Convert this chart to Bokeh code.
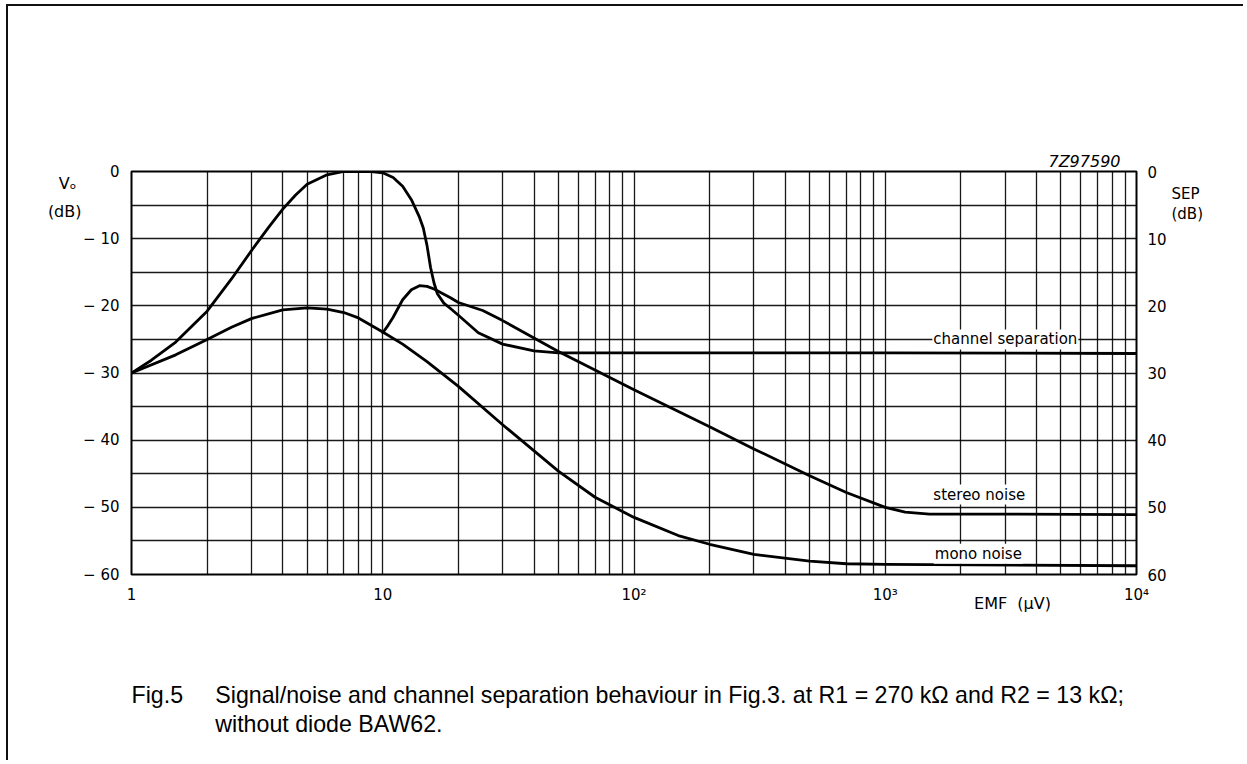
from bokeh.plotting import figure
from bokeh.models import Range1d, LinearAxis, LogAxis, FixedTicker, Label, Title
from bokeh.embed import file_html
from bokeh.resources import INLINE

# ---------------- data ----------------
x_ticks = [1, 10, 100, 1000, 10000]
x_tick_labels = ["1", "10", "10\u00b2", "10\u00b3", "10\u2074"]
vo_ticks = [0, -10, -20, -30, -40, -50, -60]
vo_tick_labels = ["0", "\u2212 10", "\u2212 20", "\u2212 30", "\u2212 40", "\u2212 50", "\u2212 60"]
sep_ticks = [0, 10, 20, 30, 40, 50, 60]
sep_tick_labels = ["0", "10", "20", "30", "40", "50", "60"]

sep_emf = [1, 1.2, 1.5, 2, 2.5, 3, 3.5, 4, 4.5, 5, 6, 7, 8, 9, 10, 11, 12, 13, 14, 14.5,
           15, 15.5, 16, 16.5, 17.5, 18.6, 20, 24, 30, 40, 50, 100, 1000, 10000]
sep_db = [-30, -28.1, -25.4, -20.8, -16.0, -11.8, -8.4, -5.6, -3.5, -1.9, -0.5, 0, 0, 0, -0.2,
          -0.9, -2.2, -4.2, -6.8, -8.4, -11.0, -14.3, -16.6, -18.2, -19.6, -20.4, -21.4,
          -24.0, -25.7, -26.7, -27.0, -27.0, -27.0, -27.1]

stereo_emf = [10, 10.5, 11, 12, 13, 14, 15, 16, 18.6, 20, 25, 30, 50, 100, 200, 300, 500,
              700, 1000, 1200, 1500, 3000, 10000]
stereo_db = [-24.0, -22.9, -21.7, -19.1, -17.6, -17.0, -17.1, -17.5, -18.8, -19.5, -20.7,
             -22.2, -26.8, -32.5, -38.0, -41.3, -45.3, -47.8, -50.0, -50.7, -51.0, -51.0, -51.1]

mono_emf = [1, 1.5, 2, 2.5, 3, 4, 5, 6, 7, 8, 10, 12, 15, 20, 30, 50, 70, 100, 150, 200,
            300, 500, 700, 1000, 10000]
mono_db = [-30, -27.3, -25.0, -23.2, -21.9, -20.6, -20.3, -20.5, -21.0, -21.8, -23.9, -25.7,
           -28.3, -32.0, -37.7, -44.6, -48.5, -51.5, -54.2, -55.5, -57.0, -58.0, -58.4,
           -58.5, -58.7]

x_grid = [m * 10 ** d for d in range(4) for m in range(1, 10)] + [10000]
y_grid = list(range(-60, 1, 5))

# axis-title positions (in axis units) and texts
vo_title_pos = [-1.8, -5.9]
vo_title_text = ["V\u2092\u00a0", "(dB)"]
sep_title_pos = [3.3, 6.3]
sep_title_text = ["SEP", "(dB)"]
emf_title_pos = [3210]
emf_title_text = ["EMF\u00a0 (\u03bcV)"]

fig_code = "7Z97590"
caption_1 = "Fig.5" + "\u00a0" * 5 + "Signal/noise and channel separation behaviour in Fig.3. at R1 = 270 k\u03a9 and R2 = 13 k\u03a9;"
caption_2 = "\u00a0" * 13 + "without diode BAW62."

# ---------------- figure ----------------
AX_FONT = "DejaVu Sans"
CAP_FONT = "Liberation Sans"
p = figure(width=1237, height=756, x_axis_type="log",
           x_range=Range1d(1, 10000), y_range=Range1d(-60, 0),
           output_backend="svg", toolbar_location=None,
           min_border_left=123, min_border_right=109,
           min_border_top=165, min_border_bottom=188,
           styles={"border-top": "2px solid #111", "border-left": "2px solid #111",
                   "margin-left": "6px", "margin-top": "4px"})
p.background_fill_color = "white"
p.border_fill_color = "white"
p.outline_line_color = "black"
p.outline_line_width = 2

p.xgrid.ticker = FixedTicker(ticks=x_grid)
p.ygrid.ticker = FixedTicker(ticks=y_grid)
for g in (p.xgrid, p.ygrid):
    g.grid_line_color = "black"
    g.grid_line_width = 1.3
    g.grid_line_alpha = 0.9

# bottom log axis
xa = p.xaxis[0]
xa.ticker = FixedTicker(ticks=x_ticks)
xa.major_label_overrides = dict(zip(x_ticks, x_tick_labels))
xa.major_label_standoff = 5

# left axis
ya = p.yaxis[0]
ya.ticker = FixedTicker(ticks=vo_ticks)
ya.major_label_overrides = dict(zip(vo_ticks, vo_tick_labels))
ya.major_label_standoff = 6

# outer left axis carrying the "Vo (dB)" title
ya2 = LinearAxis(ticker=FixedTicker(ticks=vo_title_pos),
                 major_label_overrides=dict(zip(vo_title_pos, vo_title_text)),
                 major_label_standoff=-7)
p.add_layout(ya2, "left")

# right axis (SEP)
p.extra_y_ranges = {"sep": Range1d(60, 0)}
ra = LinearAxis(y_range_name="sep", ticker=FixedTicker(ticks=sep_ticks),
                major_label_overrides=dict(zip(sep_ticks, sep_tick_labels)),
                major_label_standoff=5)
p.add_layout(ra, "right")
ra2 = LinearAxis(y_range_name="sep", ticker=FixedTicker(ticks=sep_title_pos),
                 major_label_overrides=dict(zip(sep_title_pos, sep_title_text)),
                 major_label_standoff=-4)
p.add_layout(ra2, "right")

# second bottom axis carrying "EMF (uV)"
xa2 = LogAxis(ticker=FixedTicker(ticks=emf_title_pos),
              major_label_overrides=dict(zip(emf_title_pos, emf_title_text)),
              major_label_standoff=-19)
p.add_layout(xa2, "below")

for ax in (xa, ya, ra, ya2, ra2, xa2):
    ax.axis_line_color = None
    ax.major_tick_line_color = None
    ax.minor_tick_line_color = None
    ax.major_label_text_font = AX_FONT
    ax.major_label_text_font_size = "15px"
    ax.major_label_text_color = "black"
ya2.major_label_text_font_size = "16px"
xa2.major_label_text_font_size = "16px"

# curves
for xs, ys in ((sep_emf, sep_db), (mono_emf, mono_db), (stereo_emf, stereo_db)):
    p.line(xs, ys, line_color="black", line_width=2.8, line_join="round", line_cap="round")

# curve labels (data units, white background)
for txt, x, y in (("channel separation", 1540, -25.0),
                  ("stereo noise", 1540, -48.1),
                  ("mono noise", 1560, -56.9)):
    p.add_layout(Label(x=x, y=y, text=txt, text_font=AX_FONT, text_font_size="15px",
                       text_align="left", text_baseline="middle", text_color="black",
                       background_fill_color="white", padding=1))

# figure code above the frame, right
p.title.text = fig_code
p.title.align = "right"
p.title.offset = 16
p.title.standoff = 2
p.title.text_font = AX_FONT
p.title.text_font_style = "italic"
p.title.text_font_size = "16px"
p.title.text_color = "black"

# caption below (two blank spacer lines, then the two caption lines)
cap = Title(text="\u00a0\n\u00a0\n" + caption_1 + "\n" + caption_2, align="left", standoff=10,
            text_font=CAP_FONT, text_font_size="23.2px", text_font_style="normal",
            text_color="black", text_line_height=1.14)
p.add_layout(cap, "below")

open("out.html", "w").write(file_html(p, INLINE))
